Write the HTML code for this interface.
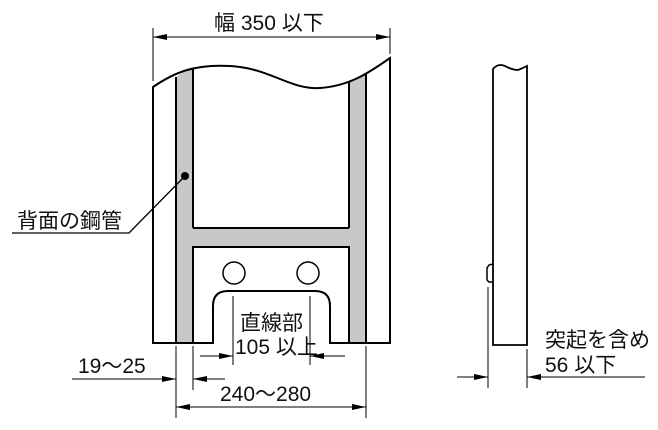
<!DOCTYPE html>
<html><head><meta charset="utf-8"><style>
html,body{margin:0;padding:0;background:#fff}
svg{display:block}
text{font-family:"Liberation Sans","Noto Sans CJK JP",sans-serif;font-size:21px;fill:#111}
</style></head><body>
<svg width="658" height="430" viewBox="0 0 658 430" xmlns="http://www.w3.org/2000/svg">
<defs>
<marker id="a" viewBox="0 0 14 6" refX="14" refY="3" markerWidth="14" markerHeight="6" orient="auto" markerUnits="userSpaceOnUse"><path d="M0,0 L14,3 L0,6 Z" fill="#000"/></marker>
</defs>
<path d="M176,77 Q185,70 193,68 L193,343 L176,343 Z" fill="#c8c8c8"/>
<path d="M349,81 Q358,78 366,74 L366,343 L349,343 Z" fill="#c8c8c8"/>
<rect x="193" y="228" width="156" height="19" fill="#c8c8c8"/>
<g fill="none" stroke="#000" stroke-width="2">
<path d="M153,87 C175,72 195,64 230,66 C270,68 290,90 320,88 C350,86 370,72 390,58 L390,343 L330,343 L330,306 Q330,291 315,291 L228,291 Q213,291 213,306 L213,343 L153,343 Z"/>
<line x1="176" y1="77" x2="176" y2="343"/>
<line x1="193" y1="68" x2="193" y2="228"/>
<line x1="193" y1="228" x2="349" y2="228"/>
<line x1="349" y1="81" x2="349" y2="228"/>
<line x1="366" y1="74" x2="366" y2="343"/>
<path d="M193,343 L193,247 L349,247 L349,343"/>
<circle cx="234" cy="273" r="11" stroke-width="1.5"/>
<circle cx="308" cy="273" r="11" stroke-width="1.5"/>
<path d="M493,69 Q498,63 505,66 Q512,70 518,70 Q523,68 527,66 L527,345 L493,345 Z" stroke-width="1.8"/>
<path d="M493,264 L489,265 L487,268 L487,280 L489,282 L493,282" stroke-width="1.5"/>
</g>
<g stroke="#000" stroke-width="1" fill="none">
<line x1="153" y1="28" x2="153" y2="81"/>
<line x1="390" y1="28" x2="390" y2="54"/>
<line x1="170" y1="37" x2="153" y2="37" marker-end="url(#a)"/>
<line x1="170" y1="37" x2="373" y2="37"/>
<line x1="373" y1="37" x2="390" y2="37" marker-end="url(#a)"/>
<polyline points="185,176 129,233 12,233" stroke-width="1.3"/>
<line x1="233" y1="296" x2="233" y2="365"/>
<line x1="310" y1="296" x2="310" y2="365"/>
<line x1="200" y1="356" x2="233" y2="356" marker-end="url(#a)"/>
<line x1="345" y1="356" x2="310" y2="356" marker-end="url(#a)"/>
<line x1="176" y1="346" x2="176" y2="418"/>
<line x1="193" y1="346" x2="193" y2="390"/>
<line x1="72" y1="379" x2="176" y2="379" marker-end="url(#a)"/>
<line x1="225" y1="379" x2="193" y2="379" marker-end="url(#a)"/>
<line x1="366" y1="346" x2="366" y2="418"/>
<line x1="200" y1="407" x2="176" y2="407" marker-end="url(#a)"/>
<line x1="200" y1="407" x2="342" y2="407"/>
<line x1="342" y1="407" x2="366" y2="407" marker-end="url(#a)"/>
<line x1="488" y1="287" x2="488" y2="388"/>
<line x1="527" y1="349" x2="527" y2="388"/>
<line x1="457" y1="377" x2="488" y2="377" marker-end="url(#a)"/>
<line x1="645" y1="377" x2="527" y2="377" marker-end="url(#a)"/>
</g>
<circle cx="185" cy="176" r="4" fill="#000"/>
<text x="214" y="30">幅 350 以下</text>
<text x="17" y="228">背面の鋼管</text>
<text x="240" y="330">直線部</text>
<text x="235" y="354">105 以上</text>
<text x="78" y="373">19～25</text>
<text x="220" y="401">240～280</text>
<text x="545" y="347">突起を含め</text>
<text x="545" y="372">56 以下</text>
</svg>
</body></html>
